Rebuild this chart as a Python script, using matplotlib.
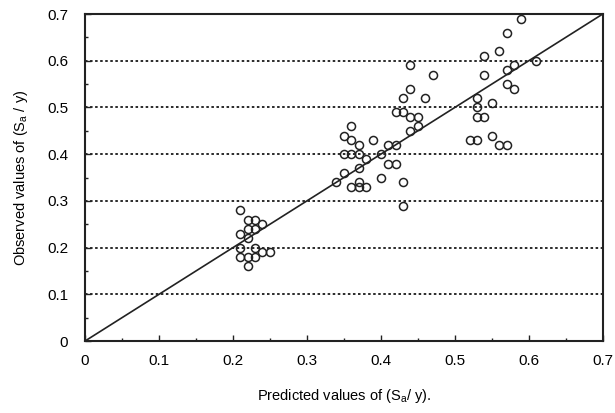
import numpy as np
import matplotlib
matplotlib.use("Agg")
import matplotlib.pyplot as plt
from matplotlib.ticker import MultipleLocator

# predicted vs observed S_a / y
predicted = [
    0.21, 0.22, 0.23, 0.24, 0.21, 0.22, 0.23, 0.22, 0.21, 0.21,
    0.22, 0.23, 0.24, 0.25, 0.22, 0.23,
    0.34, 0.35, 0.36, 0.35, 0.36, 0.35, 0.36, 0.37, 0.37, 0.38,
    0.37, 0.36, 0.37, 0.38, 0.37, 0.39, 0.40, 0.40, 0.41, 0.42,
    0.41, 0.42, 0.43, 0.43, 0.42, 0.43, 0.44, 0.43, 0.44, 0.44,
    0.46, 0.47, 0.45, 0.45, 0.44,
    0.52, 0.53, 0.53, 0.54, 0.53, 0.53, 0.55, 0.54, 0.54, 0.56,
    0.55, 0.56, 0.57, 0.57, 0.59, 0.57, 0.58, 0.57, 0.58, 0.61,
]
observed = [
    0.28, 0.26, 0.26, 0.25, 0.23, 0.24, 0.24, 0.22, 0.20, 0.18,
    0.18, 0.18, 0.19, 0.19, 0.16, 0.20,
    0.34, 0.36, 0.46, 0.44, 0.43, 0.40, 0.40, 0.42, 0.40, 0.39,
    0.37, 0.33, 0.33, 0.33, 0.34, 0.43, 0.35, 0.40, 0.42, 0.42,
    0.38, 0.38, 0.34, 0.29, 0.49, 0.49, 0.48, 0.52, 0.54, 0.59,
    0.52, 0.57, 0.48, 0.46, 0.45,
    0.43, 0.43, 0.48, 0.48, 0.52, 0.50, 0.51, 0.57, 0.61, 0.62,
    0.44, 0.42, 0.42, 0.66, 0.69, 0.58, 0.59, 0.55, 0.54, 0.60,
]

tick_vals = [0, 0.1, 0.2, 0.3, 0.4, 0.5, 0.6, 0.7]
tick_text = ["0", "0.1", "0.2", "0.3", "0.4", "0.5", "0.6", "0.7"]

plt.rcParams["font.family"] = ["Liberation Sans", "DejaVu Sans"]
plt.rcParams["mathtext.default"] = "regular"

fig = plt.figure(figsize=(6.15, 4.13), dpi=100)
ax = fig.add_axes([0.138, 0.174, 0.842, 0.792])

# dotted horizontal guides
for g in tick_vals[1:-1]:
    ax.axhline(g, color="#2a2a2a", lw=1.4, ls=(0, (1.3, 1.3)), zorder=1)

ax.plot([0, 0.7], [0, 0.7], color="#222222", lw=1.2, zorder=2)
ax.plot(predicted, observed, "o", ms=5.8, mfc="none", mec="#222222", mew=1.1, zorder=3)

ax.set_xlim(0, 0.7)
ax.set_ylim(0, 0.7)
ax.set_xticks(tick_vals)
ax.set_xticklabels(tick_text)
ax.set_yticks(tick_vals)
ax.set_yticklabels(tick_text)
ax.xaxis.set_minor_locator(MultipleLocator(0.05))
ax.yaxis.set_minor_locator(MultipleLocator(0.05))
ax.tick_params(which="both", direction="in", top=False, right=False,
               labelsize=11, color="#222222")
ax.tick_params(which="major", length=4, width=1)
ax.tick_params(which="minor", length=2, width=1)
ax.tick_params(axis="x", pad=9)
ax.tick_params(axis="y", pad=12)

for s in ax.spines.values():
    s.set_linewidth(1.5)
    s.set_color("#222222")

ax.set_xlabel("Predicted values of (S$_a$/ y).", fontsize=10.5, labelpad=14)
ax.set_ylabel("Observed values of (S$_a$ / y)", fontsize=10.5, labelpad=12)

fig.savefig("out.png", dpi=100, facecolor="white")
